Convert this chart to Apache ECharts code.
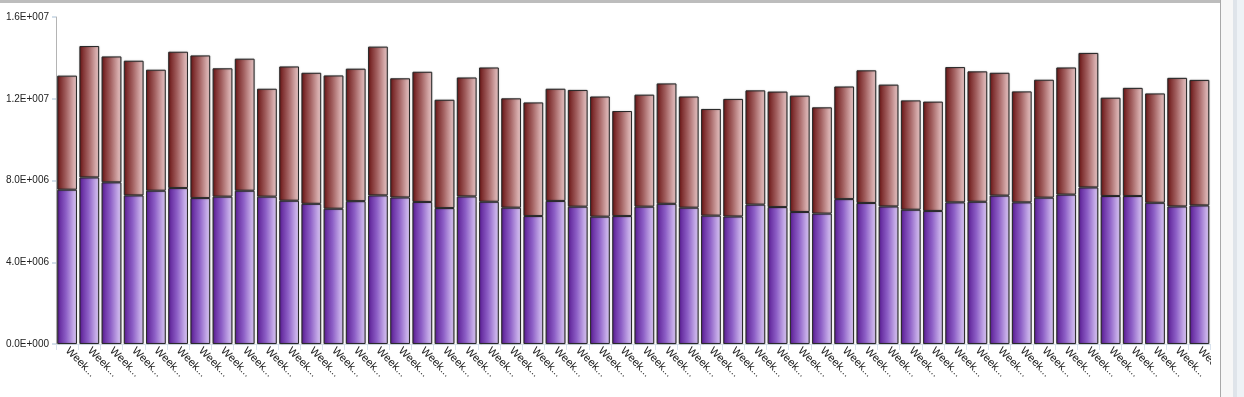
<!DOCTYPE html>
<html>
<head>
<meta charset="utf-8">
<script src="https://cdn.jsdelivr.net/npm/echarts@6/dist/echarts.min.js"></script>
<style>
  html, body { margin: 0; padding: 0; background: #fff; }
  body { width: 1244px; height: 397px; position: relative; overflow: hidden; }
  .top-bar { position: absolute; left: 0; top: 0; width: 1221px; height: 3px; background: #bdbdbd; }
  .right-edge { position: absolute; left: 1220px; top: 0; width: 1px; height: 397px; background: #a9a9a9; }
  .side { position: absolute; left: 1221px; top: 0; width: 23px; height: 397px; background: #f7f7f7; }
  .side-strip { position: absolute; left: 1233px; top: 0; width: 4px; height: 397px; background: #dfe4ea; }
  .side-right { position: absolute; left: 1237px; top: 0; width: 7px; height: 397px; background: #eef2f6; }
  #chart { position: absolute; left: 0; top: 3px; width: 1211px; height: 394px; }
</style>
</head>
<body>
<div class="top-bar"></div>
<div class="side"></div>
<div class="side-strip"></div>
<div class="side-right"></div>
<div class="right-edge"></div>
<div id="chart"></div>
<script>
// weekly categories
const weeks = [
  'Week 1', 'Week 2', 'Week 3', 'Week 4', 'Week 5', 'Week 6', 'Week 7', 'Week 8',
  'Week 9', 'Week 10', 'Week 11', 'Week 12', 'Week 13', 'Week 14', 'Week 15', 'Week 16',
  'Week 17', 'Week 18', 'Week 19', 'Week 20', 'Week 21', 'Week 22', 'Week 23', 'Week 24',
  'Week 25', 'Week 26', 'Week 27', 'Week 28', 'Week 29', 'Week 30', 'Week 31', 'Week 32',
  'Week 33', 'Week 34', 'Week 35', 'Week 36', 'Week 37', 'Week 38', 'Week 39', 'Week 40',
  'Week 41', 'Week 42', 'Week 43', 'Week 44', 'Week 45', 'Week 46', 'Week 47', 'Week 48',
  'Week 49', 'Week 50', 'Week 51', 'Week 52'
]

// lower (purple) part of each stack
const purpleValues = [
  7550000, 8150000, 7910000, 7270000, 7500000, 7630000, 7140000, 7210000,
  7500000, 7210000, 7010000, 6860000, 6620000, 6990000, 7270000, 7170000,
  6950000, 6650000, 7220000, 6960000, 6670000, 6260000, 7000000, 6720000,
  6230000, 6260000, 6720000, 6860000, 6670000, 6280000, 6240000, 6820000,
  6700000, 6460000, 6380000, 7090000, 6900000, 6730000, 6570000, 6510000,
  6930000, 6960000, 7260000, 6930000, 7160000, 7310000, 7660000, 7240000,
  7240000, 6910000, 6730000, 6780000
]

// upper (brown) part of each stack
const brownValues = [
  5580000, 6430000, 6160000, 6590000, 5920000, 6670000, 6980000, 6280000,
  6460000, 5280000, 6570000, 6410000, 6520000, 6480000, 7280000, 5830000,
  6370000, 5300000, 5820000, 6570000, 5350000, 5560000, 5490000, 5710000,
  5880000, 5140000, 5480000, 5890000, 5440000, 5220000, 5750000, 5590000,
  5650000, 5690000, 5200000, 5510000, 6490000, 5960000, 5350000, 5350000,
  6620000, 6380000, 6010000, 5430000, 5770000, 6220000, 6580000, 4810000,
  5290000, 5350000, 6290000, 6140000
]

const yMin = 0
const yMax = 16000000
const yStep = 4000000

function sciLabel(v) {
  let e = v === 0 ? 0 : Math.floor(Math.log10(v))
  let m = v === 0 ? 0 : v / Math.pow(10, e)
  return m.toFixed(1) + 'E+' + String(e).padStart(3, '0')
}

function grad(dark, mid, light) {
  return new echarts.graphic.LinearGradient(0, 0, 1, 0, [
    { offset: 0, color: dark },
    { offset: 0.45, color: mid },
    { offset: 1, color: light }
  ])
}

const labelFont = 'Liberation Sans, Arial, sans-serif'

const chart = echarts.init(document.getElementById('chart'), null, { renderer: 'canvas' })

const option = {
  animation: false,
  grid: { left: 56, right: 0.5, top: 14, bottom: 53, containLabel: false, outerBoundsMode: 'none' },
  xAxis: {
    type: 'category',
    data: weeks,
    axisLine: { show: true, lineStyle: { color: '#d9e3ee', width: 1 } },
    axisTick: { show: true, interval: 0, length: 6, lineStyle: { color: '#d9e3ee' } },
    axisLabel: {
      interval: 0,
      rotate: -45,
      margin: 5,
      fontSize: 11,
      color: '#222',
      fontFamily: labelFont,
      formatter: function (v) { return v.slice(0, 4) + '...' }
    }
  },
  yAxis: {
    type: 'value',
    min: yMin,
    max: yMax,
    interval: yStep,
    axisLine: { show: true, lineStyle: { color: '#b4b4b4', width: 1 } },
    axisTick: { show: true, length: 4, lineStyle: { color: '#d3dfea', width: 2 } },
    splitLine: { show: false },
    axisLabel: {
      margin: 7,
      fontSize: 10,
      color: '#222',
      fontFamily: labelFont,
      formatter: sciLabel
    }
  },
  series: [
    {
      name: 'lower',
      type: 'bar',
      stack: 'total',
      barCategoryGap: '11%',
      data: purpleValues,
      itemStyle: {
        color: grad('#5a1c94', '#8d5fc6', '#ddccf6'),
        borderColor: '#2a2a2a',
        borderWidth: 1,
        shadowColor: 'rgba(0,0,0,0.35)',
        shadowBlur: 1.5
      }
    },
    {
      name: 'upper',
      type: 'bar',
      stack: 'total',
      barCategoryGap: '11%',
      data: brownValues,
      itemStyle: {
        color: grad('#6a1414', '#a26060', '#ebcaca'),
        borderColor: '#2a2a2a',
        borderWidth: 1,
        shadowColor: 'rgba(0,0,0,0.35)',
        shadowBlur: 1.5
      }
    }
  ]
}

chart.setOption(option)
window.addEventListener('resize', () => {
  chart.resize()
})
</script>
</body>
</html>
